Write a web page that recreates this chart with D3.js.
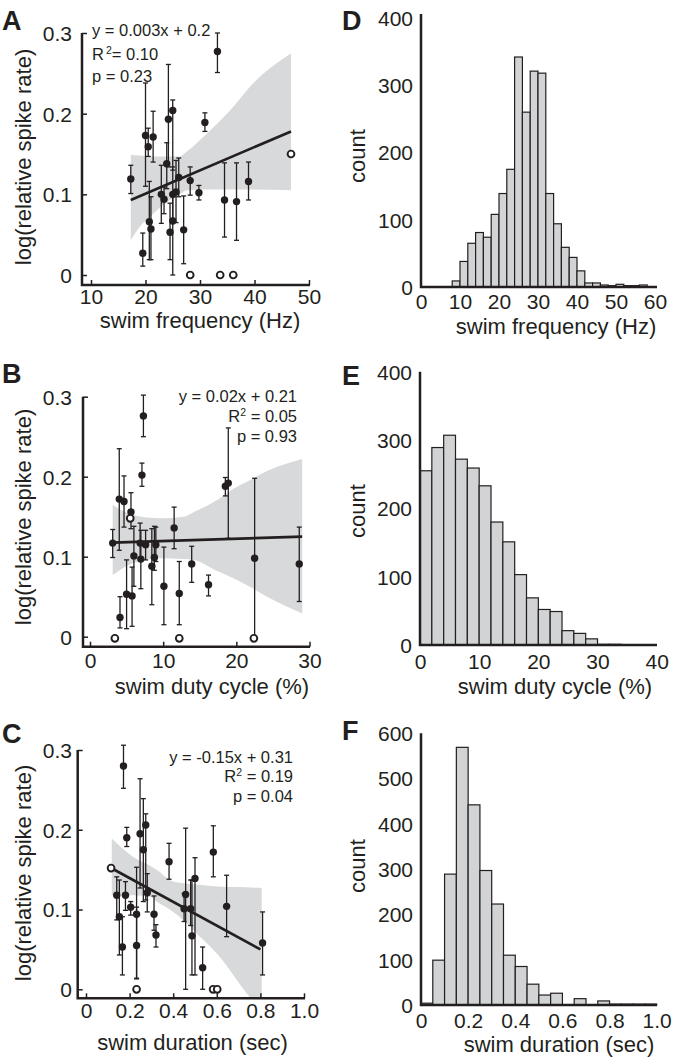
<!DOCTYPE html>
<html><head><meta charset="utf-8">
<script src="https://cdn.jsdelivr.net/npm/d3@7"></script>
<style>
body{margin:0;background:#fff}
svg{display:block}
text{font-family:'Liberation Sans',Arial,Helvetica,sans-serif;fill:#231f20}
</style>
</head><body>
<svg id="chart" width="673" height="1059"></svg>
<script>
// ---------------- Panel A: swim frequency vs log(relative spike rate) ----------------
const aX  = [33.2, 30.9, 25.0, 24.2, 20.0, 20.5, 21.4, 23.9, 17.3, 26.1, 28.2, 29.8, 38.9, 34.5, 36.7, 22.9, 23.4, 25.0, 25.6, 20.7, 21.0, 19.5, 24.5, 25.0, 27.0];
const aY  = [0.277, 0.189, 0.204, 0.193, 0.173, 0.159, 0.171, 0.138, 0.119, 0.121, 0.117, 0.102, 0.116, 0.093, 0.091, 0.100, 0.094, 0.100, 0.103, 0.066, 0.057, 0.027, 0.053, 0.067, 0.056];
const aLo = [0.251, 0.178, 0.130, 0.134, 0.110, 0.147, 0.140, 0.107, 0.101, 0.097, 0.099, 0.093, 0.093, 0.047, 0.043, 0.064, 0.076, 0.070, 0.065, 0.019, 0.019, 0.011, 0.019, 0.000, 0.014];
const aHi = [0.300, 0.201, 0.217, 0.261, 0.238, 0.182, 0.203, 0.164, 0.136, 0.145, 0.134, 0.111, 0.140, 0.139, 0.139, 0.136, 0.109, 0.134, 0.142, 0.116, 0.097, 0.052, 0.089, 0.097, 0.098];
const aOpenX = [46.7, 28.2, 33.7, 36.1];
const aOpenY = [0.150, 0.000, 0.000, 0.000];
const aBandX  = [17.3, 19.0, 21.4, 24.5, 26.3, 27.6, 30.6, 35.5, 39.8, 46.7];
const aBandHi = [0.149, 0.148, 0.147, 0.147, 0.147, 0.153, 0.171, 0.204, 0.238, 0.275];
const aBandLo = [0.043, 0.060, 0.076, 0.093, 0.100, 0.105, 0.106, 0.106, 0.106, 0.105];
const aFitX = [17.3, 46.7];
const aFitY = [0.093, 0.178];
const aXTicks = [10, 20, 30, 40, 50];
const aStats = ["y = 0.003x + 0.2", "= 0.10", "p = 0.23"];

// ---------------- Panel B: swim duty cycle ----------------
const bX  = [7.3, 7.1, 4.0, 4.65, 5.6, 18.5, 18.9, 3.1, 11.5, 6.0, 6.85, 6.95, 7.6, 8.45, 8.8, 9.0, 4.1, 5.0, 5.75, 10.1, 12.2, 13.9, 16.2, 22.5, 28.6];
const bY  = [0.276, 0.202, 0.172, 0.169, 0.156, 0.188, 0.192, 0.117, 0.136, 0.101, 0.117, 0.097, 0.115, 0.088, 0.099, 0.115, 0.024, 0.053, 0.051, 0.063, 0.054, 0.091, 0.065, 0.098, 0.091];
const bLo = [0.250, 0.188, 0.108, 0.137, 0.135, 0.176, 0.123, 0.099, 0.110, 0.063, 0.098, 0.060, 0.096, 0.040, 0.083, 0.094, 0.011, 0.010, 0.013, 0.015, 0.015, 0.068, 0.051, -0.002, 0.044];
const bHi = [0.302, 0.217, 0.235, 0.201, 0.180, 0.199, 0.261, 0.134, 0.162, 0.138, 0.142, 0.133, 0.133, 0.135, 0.138, 0.137, 0.050, 0.096, 0.087, 0.112, 0.094, 0.113, 0.077, 0.198, 0.137];
const bOpenX = [5.5, 3.4, 12.2, 22.4];
const bOpenY = [0.148, -0.002, -0.002, -0.002];
const bBandX  = [3.1, 5.9, 9.6, 12.8, 14.2, 17.4, 19.6, 21.9, 24.2, 29.0];
const bBandHi = [0.165, 0.152, 0.148, 0.150, 0.156, 0.171, 0.185, 0.196, 0.207, 0.222];
const bBandLo = [0.077, 0.092, 0.098, 0.097, 0.096, 0.082, 0.073, 0.062, 0.050, 0.029];
const bFitX = [3.1, 29.0];
const bFitY = [0.1175, 0.125];
const bXTicks = [0, 10, 20, 30];
const bStats = ["y = 0.02x + 0.21", " = 0.05", "p = 0.93"];

// ---------------- Panel C: swim duration ----------------
const cX  = [0.172, 0.187, 0.248, 0.274, 0.263, 0.381, 0.584, 0.500, 0.457, 0.450, 0.480, 0.486, 0.645, 0.810, 0.535, 0.141, 0.153, 0.167, 0.181, 0.205, 0.232, 0.232, 0.281, 0.312, 0.321];
const cY  = [0.280, 0.190, 0.195, 0.206, 0.175, 0.160, 0.172, 0.139, 0.119, 0.101, 0.101, 0.067, 0.104, 0.058, 0.027, 0.118, 0.091, 0.053, 0.118, 0.103, 0.094, 0.055, 0.121, 0.094, 0.068];
const cLo = [0.252, 0.179, 0.127, 0.112, 0.110, 0.138, 0.141, 0.018, 0.000, 0.085, 0.080, 0.018, 0.066, 0.018, 0.000, 0.087, 0.043, 0.018, 0.099, 0.093, 0.014, 0.013, 0.097, 0.074, 0.053];
const cHi = [0.306, 0.203, 0.264, 0.220, 0.239, 0.183, 0.205, 0.165, 0.202, 0.120, 0.137, 0.137, 0.143, 0.097, 0.053, 0.141, 0.137, 0.091, 0.135, 0.110, 0.153, 0.103, 0.145, 0.117, 0.081];
const cOpenX = [0.115, 0.232, 0.583, 0.602];
const cOpenY = [0.152, 0.000, 0.000, 0.000];
const cBandX  = [0.118, 0.217, 0.294, 0.324, 0.400, 0.446, 0.523, 0.600, 0.737, 0.806];
const cBandHi = [0.189, 0.166, 0.155, 0.150, 0.135, 0.133, 0.131, 0.129, 0.128, 0.127];
const cBandLo = [0.118, 0.118, 0.116, 0.110, 0.097, 0.087, 0.066, 0.045, -0.005, -0.030];
const cFitX = [0.115, 0.8];
const cFitY = [0.152, 0.050];
const cXTicks = [0, 0.2, 0.4, 0.6, 0.8, 1.0];
const cStats = ["y = -0.15x + 0.31", " = 0.19", "p = 0.04"];

const rateTicks = [0, 0.1, 0.2, 0.3];

// ---------------- Histograms ----------------
const dLeft   = [0,2,4,6,8,10,12,14,16,18,20,22,24,26,28,30,32,34,36,38,40,42,44,46,48,50,52,54,56,58];
const dCounts = [0,0,0,0,9,38,65,81,74,108,139,175,342,260,321,318,139,94,59,44,24,6,6,3,2,4,2,2,3,0];
const dWidth = 2;
const dXTicks = [0,10,20,30,40,50,60];
const dYTicks = [0,100,200,300,400];

const eLeft   = [0,2,4,6,8,10,12,14,16,18,20,22,24,26,28,30,32,34,36,38];
const eCounts = [255,289,307,272,259,233,180,151,103,69,52,49,21,17,9,1,1,0,0,0];
const eWidth = 2;
const eXTicks = [0,10,20,30,40];
const eYTicks = [0,100,200,300,400];

const fLeft   = [0,0.05,0.1,0.15,0.2,0.25,0.3,0.35,0.4,0.45,0.5,0.55,0.6,0.65,0.7,0.75,0.8,0.85,0.9,0.95];
const fCounts = [4,99,289,569,442,297,223,110,85,46,22,26,0,14,0,9,2,2,2,2];
const fWidth = 0.05;
const fXTicks = [0,0.2,0.4,0.6,0.8,1.0];
const fYTicks = [0,100,200,300,400,500,600];

// ---------------- drawing ----------------
const ink = "#231f20";
const svg = d3.select("#chart");

function scatter(cfg) {
  const g = svg.append("g");
  const x = d3.scaleLinear().domain(cfg.xDomain).range(cfg.xRange);
  const y = d3.scaleLinear().domain([0, 0.3]).range(cfg.yRange);

  const clipId = "clip" + cfg.id;
  svg.append("clipPath").attr("id", clipId).append("rect")
    .attr("x", cfg.yAxisX).attr("y", y(0.3) - 40)
    .attr("width", 300).attr("height", cfg.xAxisY - (y(0.3) - 40) - 1);

  const area = d3.area().x(d => x(d[0])).y0(d => y(d[1])).y1(d => y(d[2])).curve(d3.curveMonotoneX);
  g.append("path").datum(d3.zip(cfg.bandX, cfg.bandLo, cfg.bandHi))
    .attr("d", area).attr("fill", "#d8d9da").attr("clip-path", `url(#${clipId})`);

  const pts = d3.zip(cfg.px, cfg.py, cfg.lo, cfg.hi);
  const eb = g.append("g").attr("stroke", ink).attr("stroke-width", 1.3).attr("fill", "none");
  pts.forEach(([px, py, lo, hi]) => {
    const cx = x(px);
    eb.append("line").attr("x1", cx).attr("x2", cx).attr("y1", y(lo)).attr("y2", y(hi));
    eb.append("line").attr("x1", cx - 2.5).attr("x2", cx + 2.5).attr("y1", y(lo)).attr("y2", y(lo));
    eb.append("line").attr("x1", cx - 2.5).attr("x2", cx + 2.5).attr("y1", y(hi)).attr("y2", y(hi));
  });

  const line = d3.line().x(d => x(d[0])).y(d => y(d[1]));
  g.append("path").datum(d3.zip(cfg.fitX, cfg.fitY)).attr("d", line)
    .attr("stroke", ink).attr("stroke-width", 2.7).attr("fill", "none");

  g.append("g").selectAll("circle").data(pts).join("circle")
    .attr("cx", d => x(d[0])).attr("cy", d => y(d[1])).attr("r", 3.7).attr("fill", ink);

  g.append("g").selectAll("circle").data(d3.zip(cfg.ox, cfg.oy)).join("circle")
    .attr("cx", d => x(d[0])).attr("cy", d => y(d[1])).attr("r", 3.4)
    .attr("fill", "#fff").attr("stroke", ink).attr("stroke-width", 1.9);

  // axes
  const gx = g.append("g").attr("transform", `translate(0,${cfg.xAxisY})`)
    .call(d3.axisBottom(x).tickValues(cfg.xTicks).tickFormat(cfg.xFmt).tickSize(-5).tickSizeOuter(0));
  gx.select(".domain").remove();
  gx.attr("font-size", 21).attr("font-family", null);
  gx.selectAll(".tick line").attr("stroke", ink).attr("stroke-width", 1.5);
  gx.selectAll(".tick text").attr("y", cfg.xTickBase - cfg.xAxisY).attr("dy", null).attr("fill", ink);

  const gy = g.append("g").attr("transform", `translate(${cfg.yAxisX},0)`)
    .call(d3.axisLeft(y).tickValues(rateTicks).tickFormat(d => d === 0 ? "0" : d3.format(".1f")(d)).tickSize(-5).tickSizeOuter(0));
  gy.select(".domain").remove();
  gy.attr("font-size", 21).attr("font-family", null);
  gy.selectAll(".tick line").attr("stroke", ink).attr("stroke-width", 1.5);
  gy.selectAll(".tick text").attr("x", cfg.yLabelRight - cfg.yAxisX).attr("dy", "0.35em").attr("fill", ink);

  g.append("path")
    .attr("d", `M${cfg.yAxisX},${y(0.3)}V${cfg.xAxisY}H${cfg.xAxisEnd}`)
    .attr("stroke", ink).attr("stroke-width", 2.5).attr("fill", "none");

  g.append("text").attr("x", cfg.xTitleX).attr("y", cfg.xTitleY).attr("text-anchor", "middle")
    .attr("font-size", 22).text(cfg.xTitle);
  g.append("text").attr("transform", `translate(${cfg.yTitleX},${cfg.yTitleY}) rotate(-90)`)
    .attr("text-anchor", "middle").attr("font-size", 22).text("log(relative spike rate)");

  g.append("text").attr("x", 2).attr("y", cfg.letterY).attr("font-size", 27).attr("font-weight", "bold").text(cfg.letter);
  return g;
}

function stats(g, s, x, ys, anchor, supGap) {
  g.append("text").attr("x", x).attr("y", ys[0]).attr("text-anchor", anchor).attr("font-size", 16.5).text(s[0]);
  const t = g.append("text").attr("x", x).attr("y", ys[1]).attr("text-anchor", anchor).attr("font-size", 16.5);
  t.append("tspan").text("R");
  t.append("tspan").attr("dx", supGap).attr("dy", -6).attr("font-size", 10.5).text("2");
  t.append("tspan").attr("dy", 6).text(s[1]);
  g.append("text").attr("x", x).attr("y", ys[2]).attr("text-anchor", anchor).attr("font-size", 16.5).text(s[2]);
}

const gA = scatter({
  id: "A", letter: "A", letterY: 30,
  xDomain: [10, 50], xRange: [91, 309], yRange: [275, 33],
  yAxisX: 82, xAxisY: 285, xAxisEnd: 310, xTickBase: 304, yLabelRight: 72,
  xTicks: aXTicks, xFmt: d3.format("d"),
  px: aX, py: aY, lo: aLo, hi: aHi, ox: aOpenX, oy: aOpenY,
  bandX: aBandX, bandLo: aBandLo, bandHi: aBandHi, fitX: aFitX, fitY: aFitY,
  xTitle: "swim frequency (Hz)", xTitleX: 200, xTitleY: 328, yTitleX: 31, yTitleY: 157
});
stats(gA, aStats, 92, [36, 60, 82], "start", 2);

const gB = scatter({
  id: "B", letter: "B", letterY: 383,
  xDomain: [0, 30], xRange: [90, 309.5], yRange: [636.7, 396.7],
  yAxisX: 83, xAxisY: 646.7, xAxisEnd: 310, xTickBase: 668, yLabelRight: 72,
  xTicks: bXTicks, xFmt: d3.format("d"),
  px: bX, py: bY, lo: bLo, hi: bHi, ox: bOpenX, oy: bOpenY,
  bandX: bBandX, bandLo: bBandLo, bandHi: bBandHi, fitX: bFitX, fitY: bFitY,
  xTitle: "swim duty cycle (%)", xTitleX: 212, xTitleY: 694, yTitleX: 31, yTitleY: 517
});
stats(gB, bStats, 297, [401.7, 421.7, 441.7], "end", 0);

const gC = scatter({
  id: "C", letter: "C", letterY: 743,
  xDomain: [0, 1], xRange: [86, 304], yRange: [989.3, 750],
  yAxisX: 77.7, xAxisY: 998.3, xAxisEnd: 305, xTickBase: 1018, yLabelRight: 72,
  xTicks: cXTicks, xFmt: d => d === 0 ? "0" : d3.format(".1f")(d),
  px: cX, py: cY, lo: cLo, hi: cHi, ox: cOpenX, oy: cOpenY,
  bandX: cBandX, bandLo: cBandLo, bandHi: cBandHi, fitX: cFitX, fitY: cFitY,
  xTitle: "swim duration (sec)", xTitleX: 192.5, xTitleY: 1050, yTitleX: 31, yTitleY: 873
});
stats(gC, cStats, 293, [763, 782, 802], "end", 0);

function hist(cfg) {
  const g = svg.append("g");
  const x = d3.scaleLinear().domain(cfg.xDomain).range(cfg.xRange);
  const y = d3.scaleLinear().domain(cfg.yDomain).range(cfg.yRange);
  const bins = d3.zip(cfg.left, cfg.counts).filter(d => d[1] > 0);
  g.append("g").selectAll("rect").data(bins).join("rect")
    .attr("x", d => x(d[0])).attr("width", d => x(d[0] + cfg.width) - x(d[0]))
    .attr("y", d => y(d[1])).attr("height", d => y(0) - y(d[1]))
    .attr("fill", "#d1d3d4").attr("stroke", ink).attr("stroke-width", 1.2);

  const gx = g.append("g").attr("transform", `translate(0,${y(0)})`)
    .call(d3.axisBottom(x).tickValues(cfg.xTicks).tickFormat(cfg.xFmt).tickSize(0));
  gx.select(".domain").remove();
  gx.attr("font-size", 21).attr("font-family", null);
  gx.selectAll(".tick text").attr("y", cfg.xTickBase - y(0)).attr("dy", null).attr("fill", ink);

  const gy = g.append("g").attr("transform", `translate(${x(0)},0)`)
    .call(d3.axisLeft(y).tickValues(cfg.yTicks).tickSize(0));
  gy.select(".domain").remove();
  gy.attr("font-size", 21).attr("font-family", null);
  gy.selectAll(".tick text").attr("x", -8).attr("dy", "0.35em").attr("fill", ink);

  g.append("path")
    .attr("d", `M${x(0)},${cfg.axisTop}V${y(0)}H${cfg.xAxisEnd}`)
    .attr("stroke", ink).attr("stroke-width", 2.5).attr("fill", "none");

  g.append("text").attr("x", cfg.xTitleX).attr("y", cfg.xTitleY).attr("text-anchor", "middle")
    .attr("font-size", 22).text(cfg.xTitle);
  g.append("text").attr("transform", `translate(365,${cfg.yTitleY}) rotate(-90)`)
    .attr("text-anchor", "middle").attr("font-size", 22).text("count");
  g.append("text").attr("x", 342).attr("y", cfg.letterY).attr("font-size", 27).attr("font-weight", "bold").text(cfg.letter);
}

hist({
  letter: "D", letterY: 30,
  xDomain: [0, 60], xRange: [421, 655], yDomain: [0, 400], yRange: [287, 18], axisTop: 14, xAxisEnd: 657,
  left: dLeft, counts: dCounts, width: dWidth, xTicks: dXTicks, yTicks: dYTicks, xFmt: d3.format("d"),
  xTickBase: 309, xTitle: "swim frequency (Hz)", xTitleX: 556, xTitleY: 334, yTitleY: 156
});
hist({
  letter: "E", letterY: 385,
  xDomain: [0, 40], xRange: [420, 656.7], yDomain: [0, 400], yRange: [645, 371.7], axisTop: 371.7, xAxisEnd: 657,
  left: eLeft, counts: eCounts, width: eWidth, xTicks: eXTicks, yTicks: eYTicks, xFmt: d3.format("d"),
  xTickBase: 669, xTitle: "swim duty cycle (%)", xTitleX: 555, xTitleY: 694, yTitleY: 511
});
hist({
  letter: "F", letterY: 740,
  xDomain: [0, 1], xRange: [421, 656.7], yDomain: [0, 600], yRange: [1005, 733.3], axisTop: 733.3, xAxisEnd: 657,
  left: fLeft, counts: fCounts, width: fWidth, xTicks: fXTicks, yTicks: fYTicks,
  xFmt: d => d === 0 ? "0" : d3.format(".1f")(d),
  xTickBase: 1028, xTitle: "swim duration (sec)", xTitleX: 559, xTitleY: 1052, yTitleY: 866
});
</script>
</body></html>
